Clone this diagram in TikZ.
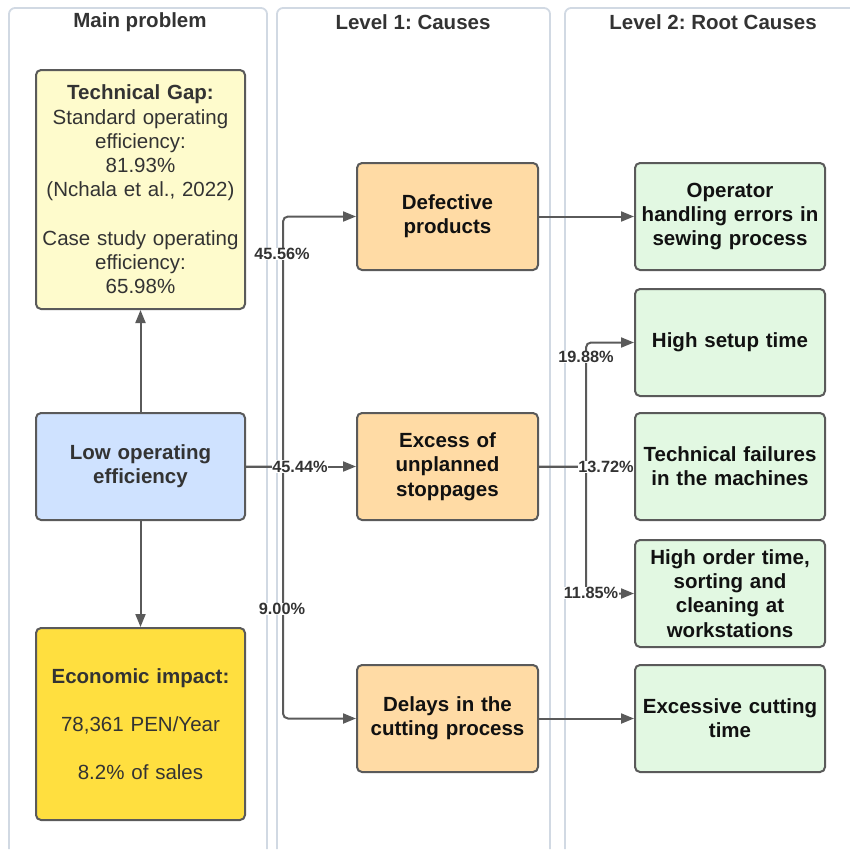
\documentclass[tikz,border=0pt]{standalone}
\usepackage{fontspec}
\setmainfont{Liberation Sans}
\usetikzlibrary{arrows.meta}
\frenchspacing
\definecolor{lanec}{HTML}{D1D9E3}
\definecolor{edgec}{HTML}{5A5A5A}
\definecolor{txtd}{HTML}{333333}
\definecolor{txtb}{HTML}{111111}
\definecolor{fyel}{HTML}{FEFBCC}
\definecolor{fblu}{HTML}{CFE2FF}
\definecolor{fgold}{HTML}{FFDF3F}
\definecolor{forg}{HTML}{FFDBA5}
\definecolor{fgrn}{HTML}{E2F8E2}
\tikzset{
  lane/.style={draw=lanec, line width=1.8pt, rounded corners=6pt},
  head/.style={font=\bfseries\fontsize{20.5}{24}\selectfont, text=txtd},
  box/.style={draw=edgec, line width=2pt, rounded corners=5pt, align=center,
    inner sep=0pt, font=\fontsize{20.5}{24.3}\selectfont},
  mainbox/.style={box, minimum width=209pt, text width=204pt, text=txtd},
  causebox/.style={box, fill=forg, minimum width=181pt, minimum height=107pt, text width=176pt, text=txtb, font=\bfseries\fontsize{20.5}{24.3}\selectfont},
  rootbox/.style={box, fill=fgrn, minimum width=190pt, minimum height=107pt, text width=186pt, text=txtb, font=\bfseries\fontsize{20.5}{24.3}\selectfont},
  conn/.style={draw=edgec, line width=2pt, rounded corners=5pt, -{Triangle[length=13pt,width=10pt]}},
  pct/.style={fill=white, inner sep=0.5pt, text=txtd, font=\bfseries\fontsize{16.3}{19}\selectfont}
}
\begin{document}
\begin{tikzpicture}[x=1pt,y=-1pt]
\useasboundingbox (0,0) rectangle (850,849);
% lanes
\draw[lane] (9,849) -- (9,8) -- (267,8) -- (267,849);
\draw[lane] (277,849) -- (277,8) -- (550,8) -- (550,849);
\draw[lane] (565,849) -- (565,8) -- (856,8) -- (856,849);
\node[head] (h1) at (140,22) {Main problem};
\node[head] (h2) at (413,22) {Level 1: Causes};
\node[head] (h3) at (713,22) {Level 2: Root Causes};
% boxes
\node[mainbox, fill=fyel, minimum height=239pt] (gap) at (140.5,189.5)
  {\textbf{Technical Gap:}\\ Standard operating\\ efficiency:\\ 81.93\%\\ (Nchala et al., 2022)\\[24pt] Case study operating\\ efficiency:\\ 65.98\%};
\node[mainbox, fill=fblu, minimum height=107pt, font=\bfseries\fontsize{20.5}{24.3}\selectfont] (low) at (140.5,466.5)
  {Low operating\\ efficiency};
\node[mainbox, fill=fgold, minimum height=192pt] (eco) at (140.5,724)
  {\textbf{Economic impact:}\\[24pt] 78,361 PEN/Year\\[24pt] 8.2\% of sales};
\node[causebox] (def) at (447.5,216.5) {Defective\\ products};
\node[causebox] (exc) at (447.5,466.5) {Excess of\\ unplanned\\ stoppages};
\node[causebox] (del) at (447.5,718.5) {Delays in the\\ cutting process};
\node[rootbox] (opr) at (730,216.5) {Operator\\ handling errors in\\ sewing process};
\node[rootbox] (set) at (730,342.5) {High setup time};
\node[rootbox] (tec) at (730,466.5) {Technical failures\\ in the machines};
\node[rootbox] (ord) at (730,593.5) {High order time,\\ sorting and\\ cleaning at\\ workstations};
\node[rootbox] (cut) at (730,718.5) {Excessive cutting\\ time};
% connectors
\coordinate (jl) at (283,466.5);
\coordinate (jr) at (586,466.5);
\draw[conn] (low.north) -- (gap.south);
\draw[conn] (low.south) -- (eco.north);
\draw[conn] (low.east) -- (jl) |- (def.west);
\draw[conn] (low.east) -- (exc.west);
\draw[conn] (jl) |- (del.west);
\draw[conn] (def.east) -- (opr.west);
\draw[conn] (exc.east) -- (jr) |- (set.west);
\draw[conn] (exc.east) -- (tec.west);
\draw[conn] (jr) |- (ord.west);
\draw[conn] (del.east) -- (cut.west);
% labels
\node[pct] (p1) at (282,254) {45.56\%};
\node[pct] (p2) at (300,466.5) {45.44\%};
\node[pct] (p3) at (282,609) {9.00\%};
\node[pct] (p4) at (586,357) {19.88\%};
\node[pct] (p5) at (606,467) {13.72\%};
\node[pct] (p6) at (591,593) {11.85\%};
\end{tikzpicture}
\end{document}
